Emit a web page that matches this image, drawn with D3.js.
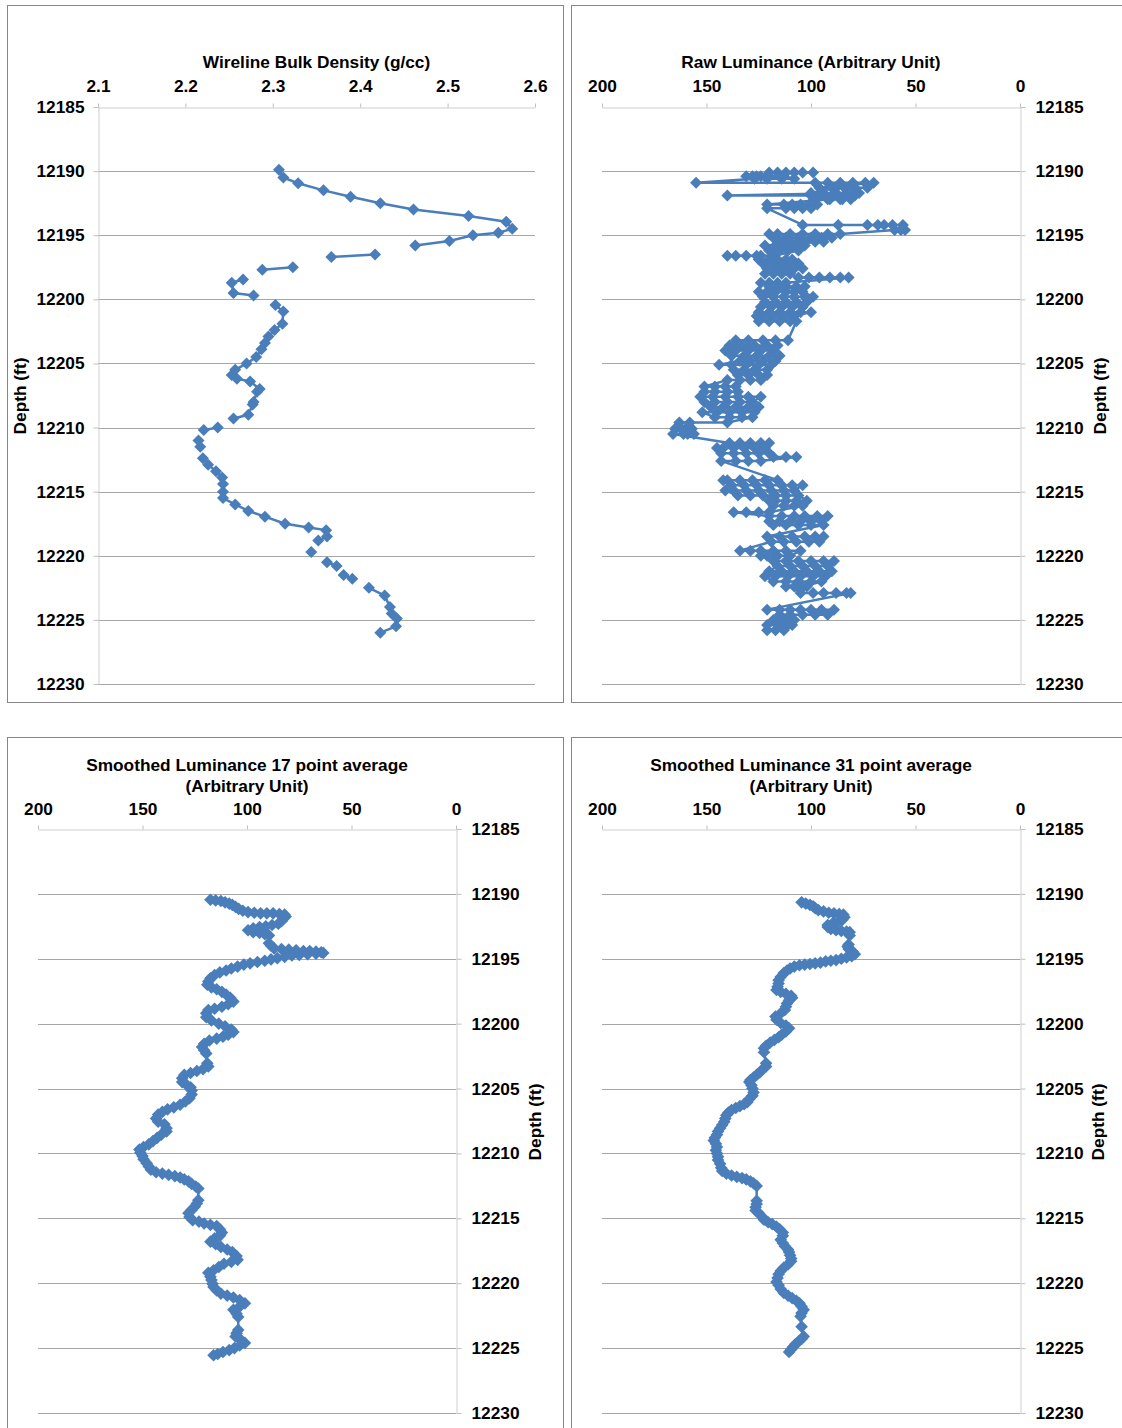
<!DOCTYPE html>
<html><head><meta charset="utf-8">
<script src="https://cdn.jsdelivr.net/npm/d3@7"></script>
<style>
body{margin:0;background:#fff;}
svg{display:block;font-family:"Liberation Sans",Arial,sans-serif;}
</style></head><body>
<svg id="c" width="1122" height="1428"></svg>
<script>
// ---------------- DATA ----------------
const depthTicks = [12185,12190,12195,12200,12205,12210,12215,12220,12225,12230];
const densityTicks = [2.1,2.2,2.3,2.4,2.5,2.6];
const lumTicks = [200,150,100,50,0];

// Wireline bulk density (null = gap in log)
const densityDepth = [12189.9,12190.5,12190.95,12191.5,12192.0,12192.5,12193.0,12193.5,12193.95,12194.5,12194.8,12195.0,12195.45,12195.8,null,
  12196.5,12196.7,null,12197.5,12197.7,null,12198.45,12198.7,12199.5,12199.7,null,
  12200.45,12200.95,12201.9,12202.4,12202.9,12203.4,12203.9,12204.5,12205.0,12205.5,12205.9,12206.2,12206.4,12207.0,12207.2,12208.0,12208.2,12209.0,12209.3,null,
  12210.0,12210.2,null,12211.0,12211.5,null,
  12212.4,12212.9,12213.4,12213.9,12214.4,12215.0,12215.5,12216.0,12216.5,12216.95,12217.5,12217.8,12218.0,12218.5,12218.8,null,
  12219.7,null,12220.5,12220.8,null,12221.5,12221.8,null,
  12222.5,12223.1,12224.0,12224.5,12224.9,12225.5,12226.0];
const densityValue = [2.307,2.312,2.329,2.358,2.389,2.423,2.461,2.524,2.567,2.574,2.558,2.529,2.502,2.463,null,
  2.417,2.367,null,2.323,2.288,null,2.266,2.253,2.255,2.278,null,
  2.303,2.312,2.311,2.302,2.295,2.291,2.287,2.281,2.270,2.257,2.253,2.259,2.274,2.285,2.282,2.278,2.277,2.272,2.255,null,
  2.237,2.221,null,2.215,2.217,null,
  2.220,2.226,2.235,2.242,2.243,2.243,2.243,2.257,2.272,2.291,2.314,2.341,2.361,2.362,2.352,null,
  2.344,null,2.362,2.373,null,2.381,2.391,null,
  2.410,2.428,2.434,2.436,2.442,2.441,2.423];

// Raw luminance: samples grouped by recorded depth row
const rawRowDepth = [12190.1,12190.4,12190.6,12190.9,12191.3,12191.7,12191.9,12192.2,12192.6,12192.9,
  12194.2,12194.6,12194.9,12195.2,12195.5,12195.8,12196.2,12196.6,12196.9,12197.2,
  12197.6,12198.0,12198.3,12198.7,12199.0,12199.4,12199.8,12200.2,12200.6,12201.0,
  12201.3,12201.7,12203.2,12203.6,12204.0,12204.4,12204.8,12205.1,12205.5,12205.9,
  12206.3,12206.8,12207.2,12207.6,12208.0,12208.4,12208.8,12209.2,12209.6,12210.1,
  12210.5,12211.2,12211.6,12212.0,12212.3,12212.6,12214.1,12214.5,12214.9,12215.3,
  12215.7,12216.1,12216.6,12216.9,12217.3,12217.6,12218.5,12218.9,12219.6,12220.0,
  12220.4,12220.8,12221.2,12221.6,12222.0,12222.4,12222.9,12224.2,12224.6,12225.0,
  12225.4,12225.8];
const rawRowValues = [
  [99,104,108,112,116,120],[124,128,131,126,120,113],[108,114,121,127],[155,98,92,86,80,74,70],
  [96,90,84,79,73,80,88],[100,94,88,83,77],[140,100,95,89,84,79],[98,92,86,81,85,91],
  [121,113,109,105,101,97],[100,104,108,112,121],
  [104,87,73,68,65,61,56],[55,57,60],[86,92,98,104,110,116,120],[118,112,106,100,95,90],
  [115,110,104,98,94],[122,117,112,108,103],[120,115,111,106],[118,124,136,140,131,126],
  [125,120,116,112,109],[123,118,114,110,106],
  [121,117,112,108,104],[122,118,114,110],[106,101,96,91,86,82],[112,116,120,124],
  [120,116,112,107,103],[125,121,117,112,108,104],[99,103,108,113,118,123],[122,117,112,107,102],
  [104,109,114,119,124],[125,120,115,110,105,100],
  [108,113,118,123,126],[125,120,115,110,107],[111,117,123,130,136],[139,133,127,121,116],
  [118,124,130,136,141],[138,132,126,120,115],[117,123,129,134],[144,138,131,125,119],
  [121,127,132,137],[135,130,125,121],
  [124,129,134,140],[151,146,141,136],[135,140,146,151],[153,147,141,135,130,124],
  [128,134,140,146,151],[148,142,136,130,125],[127,133,139,145,152],[146,139,133,128],
  [140,158,163],[160,157,162,165],
  [161,156,159,166],[139,134,129,124,120],[122,127,132,137,142,145],[143,137,131,125,120],
  [118,112,107],[124,130,136,143],[116,122,128,134,140,142],[138,132,126,120,114,109,104],
  [108,113,119,125,131,137,141],[135,129,123,117,112,106],
  [102,107,112,117,120],[118,113,108,104],[120,125,131,137],[120,114,108,103,97,92],
  [95,100,105,110,115,120],[118,112,106,100,94],[121,115,109,103,98,94],[96,101,107,113,119],
  [134,129,124,118,112,105],[110,116,121,124],
  [118,112,106,100,94,89],[92,98,104,110,116],[120,114,108,102,96,90],[93,99,105,111,117,122],
  [118,112,106,100,95],[104,108,112,107,102],[105,99,94,88,83,81],[121,115,110,105,100,95,89],
  [92,98,104,110,115],[118,112,108,113],
  [121,116,111,109],[121,117,113]
];

// Smoothed luminance, 17 point average
const s17Depth = [12190.45,12190.5,12190.55,12190.65,12190.75,12190.85,12191.0,12191.15,12191.3,12191.4,
  12191.45,12191.5,12191.5,12191.5,12191.55,12191.6,12191.75,12191.9,12192.1,12192.3,
  12192.4,12192.5,12192.55,12192.65,12192.8,12192.95,12193.0,12193.1,12193.2,12193.8,
  12194.0,12194.2,12194.25,12194.3,12194.35,12194.4,12194.4,12194.45,12194.5,12194.55,
  12194.6,12194.65,12194.7,12194.75,12194.85,12194.95,12195.05,12195.15,12195.25,12195.35,
  12195.45,12195.6,12195.75,12195.9,12196.05,12196.25,12196.5,12196.75,12197.0,12197.2,
  12197.35,12197.55,12197.75,12198.0,12198.3,12198.5,12198.7,12198.85,12198.95,12199.2,
  12199.5,12199.75,12200.0,12200.2,12200.45,12200.65,12200.85,12201.0,12201.15,12201.3,
  12201.55,12201.8,12202.05,12202.3,12203.05,12203.3,12203.5,12203.65,12203.8,12203.95,
  12204.2,12204.5,12204.7,12204.9,12205.15,12205.45,12205.75,12206.0,12206.25,12206.45,
  12206.6,12206.8,12207.0,12207.3,12207.55,12207.75,12208.05,12208.3,12208.55,12208.8,
  12209.05,12209.3,12209.5,12209.7,12209.95,12210.2,12210.45,12210.75,12211.0,12211.25,
  12211.45,12211.55,12211.65,12211.75,12211.85,12212.0,12212.15,12212.35,12212.55,12212.7,
  12213.6,12213.85,12214.1,12214.35,12214.6,12214.9,12215.15,12215.25,12215.4,12215.5,
  12215.6,12215.85,12216.1,12216.35,12216.55,12216.8,12217.0,12217.2,12217.4,12217.6,
  12217.9,12218.2,12218.35,12218.5,12218.75,12219.0,12219.2,12219.5,12219.75,12220.05,
  12220.3,12220.55,12220.8,12220.95,12221.1,12221.3,12221.55,12221.8,12222.05,12222.35,
  12222.6,12223.6,12223.85,12224.1,12224.35,12224.6,12224.8,12225.0,12225.15,12225.3,
  12225.45,12225.55];
const s17Value = [117.5,115,112.5,110.5,108.5,107,105.5,104,102,99.5,
  96.5,93.5,90.5,87.5,84.5,82,81.5,82.5,83.5,85,
  88,91,94,97,99.5,97,94,91.5,89.5,89.5,
  88.5,87,83.5,80,76.5,73,70,67,64.5,63.5,
  67,71,75,78.5,82,85.5,88.5,91.5,95,98.5,
  101.5,104.5,107.5,110,113,115.5,117.5,118.5,119,117,
  114.5,112,110,108,106.5,109,112,115.5,118.5,119.5,
  119.5,117,113.5,110.5,107.5,106.5,109,111.5,114.5,118,
  120.5,121.5,120.5,119.5,119,118.5,121,124,127,130,
  131,131,129,127,126.5,126.5,127.5,129.5,132,135,
  138,140.5,142.5,143.5,142.5,139.5,138.5,138.5,141,143,
  145,147,149.5,151.5,151,150,149.5,148,147,146,
  143.5,140.5,137.5,134.5,132,130,128,126.5,124.5,123.3,
  123.3,124,125,126.5,128,127.5,126,123,120.5,117.5,
  114.5,113,112,113,115.5,117.5,115,112.5,109.5,107,
  105,104.5,107.5,111,113.5,116,118.5,117.5,117,116.5,
  116,114.5,112.5,109.5,106.5,103.5,101,103.5,106.5,105,
  104.2,104.2,105,105.5,103,101,103.5,106,108.5,111.5,
  114,116];

// Smoothed luminance, 31 point average
const s31Depth = [12190.65,12190.75,12190.85,12190.95,12191.1,12191.25,12191.35,12191.45,12191.5,12191.55,
  12191.6,12191.8,12192.0,12192.15,12192.25,12192.4,12192.55,12192.7,12192.8,12192.85,
  12192.9,12192.95,12193.2,12193.9,12194.05,12194.25,12194.45,12194.65,12194.8,12194.9,
  12195.0,12195.1,12195.15,12195.2,12195.3,12195.35,12195.4,12195.45,12195.5,12195.6,
  12195.75,12195.9,12196.1,12196.4,12196.65,12196.9,12197.15,12197.4,12197.55,12197.7,
  12197.85,12198.0,12198.2,12198.45,12198.7,12198.95,12199.2,12199.45,12199.7,12199.95,
  12200.15,12200.35,12200.6,12200.85,12201.05,12201.25,12201.45,12201.7,12201.9,12202.2,
  12203.05,12203.3,12203.5,12203.75,12203.95,12204.15,12204.35,12204.5,12204.75,12205.0,
  12205.3,12205.55,12205.8,12206.05,12206.2,12206.35,12206.5,12206.65,12206.85,12207.05,
  12207.3,12207.55,12207.8,12208.05,12208.3,12208.55,12208.8,12209.0,12209.25,12209.5,
  12209.75,12210.0,12210.25,12210.5,12210.8,12211.1,12211.35,12211.55,12211.7,12211.8,
  12211.9,12212.0,12212.15,12212.3,12212.5,12213.65,12213.9,12214.15,12214.4,12214.6,
  12214.85,12215.1,12215.3,12215.45,12215.65,12215.85,12216.1,12216.35,12216.65,12216.9,
  12217.15,12217.4,12217.6,12217.85,12218.1,12218.3,12218.55,12218.8,12219.05,12219.3,
  12219.6,12219.9,12220.15,12220.45,12220.75,12220.95,12221.15,12221.35,12221.55,12221.8,
  12222.05,12222.3,12222.55,12223.35,12224.1,12224.3,12224.5,12224.7,12224.9,12225.1,
  12225.3];
const s31Value = [104.5,102.5,100.5,99,98,96.5,94,91.5,89,86.5,
  84.5,84,85,87,89.5,92,92,90.5,88,85.5,
  83,81.5,81.5,82,82.5,82,80,79,80.5,83,
  85.5,88,90.5,93,95.5,98,100.5,103,105.5,108,
  110,111.5,113,114.5,115.5,115.5,116,116.5,114.5,112,
  109.5,109,110.5,111.5,112,112.5,114.5,117,116.5,114.5,
  112,110.5,112,114,115.5,117.5,119.5,121.5,122.5,122.5,
  121.5,121.5,123,124.5,126,127.5,129,129.5,128.5,128,
  127.5,128,129.5,130.5,132,134,136,138,139.5,140.5,
  141,141.5,142.5,143.5,144.5,145,146,146.5,145.5,145,
  145.5,145,144.5,144.5,143.5,143,142.5,140.5,138,135.5,
  133,131,129,127.5,126,126,126,126.5,126.5,125,
  123.5,122.5,120.5,118.5,116.5,115,113.5,113.5,114.5,113.5,
  112.5,111,110.5,110,109.5,109.5,111,113,114.5,115.5,
  116,116.5,115.5,114.5,113,111,109,107,105.5,104.5,
  103.5,104.5,105,104.5,103.5,104.5,106,107.5,108.5,109.5,
  110.5];

// ---------------- DRAWING ----------------
const BLUE = '#4a7ebb';
const FONT = '"Liberation Sans", Arial, sans-serif';
const svg = d3.select('#c');

function zip(ds, vs){ return ds.map((d,i)=>({d:d, v:vs[i]})); }
const densityPts = zip(densityDepth, densityValue);
const rawPts = [];
rawRowDepth.forEach((d,i)=>rawRowValues[i].forEach(v=>rawPts.push({d:d, v:v})));
const s17Pts = zip(s17Depth, s17Value);
const s31Pts = zip(s31Depth, s31Value);

function panel(cfg){
  const g = svg.append('g');
  g.append('rect').attr('x',cfg.box[0]+0.5).attr('y',cfg.box[1]+0.5)
    .attr('width',cfg.box[2]).attr('height',cfg.box[3])
    .attr('fill','#fff').attr('stroke','#868686').attr('stroke-width',1);
  const x = d3.scaleLinear().domain(cfg.xDomain).range([cfg.x0,cfg.x1]);
  const y = d3.scaleLinear().domain([12185,12230]).range([cfg.y0,cfg.y1]);
  const left = cfg.side === 'left';

  // gridlines
  g.append('g').selectAll('line').data(depthTicks.slice(1)).join('line')
    .attr('x1',cfg.x0).attr('x2',cfg.x1)
    .attr('y1',d=>Math.round(y(d))+0.5).attr('y2',d=>Math.round(y(d))+0.5)
    .attr('stroke','#a6a6a6').attr('stroke-width',1);

  // top x axis
  const xa = g.append('g').attr('transform',`translate(0,${cfg.y0+0.5})`)
    .call(d3.axisTop(x).tickValues(cfg.xTicks).tickFormat(cfg.xFormat)
      .tickSize(4).tickSizeOuter(0).tickPadding(cfg.xPad));
  // y axis
  const yaxis = (left ? d3.axisLeft(y) : d3.axisRight(y)).tickValues(depthTicks)
      .tickFormat(d3.format('d')).tickSize(5).tickSizeOuter(0).tickPadding(cfg.yPad);
  const ya = g.append('g').attr('transform',`translate(${(left?cfg.x0:cfg.x1)+0.5},0)`).call(yaxis);
  [xa,ya].forEach(a=>{
    a.attr('font-family',FONT).attr('font-size',17.3);
    a.select('.domain').attr('stroke','#cfcfcf');
    a.selectAll('.tick line').attr('stroke','#bfbfbf');
    a.selectAll('.tick text').attr('font-weight','bold').attr('fill','#000');
  });

  // title
  const tx = (cfg.x0+cfg.x1)/2;
  cfg.title.forEach((t,i)=>{
    g.append('text').attr('x',tx).attr('y',cfg.titleY + i*21)
      .attr('text-anchor','middle').attr('font-family',FONT).attr('font-size',17.3)
      .attr('font-weight','bold').attr('fill','#000').text(t);
  });
  // depth label
  g.append('text').attr('transform',`translate(${cfg.depthX},${cfg.depthY}) rotate(-90)`)
    .attr('text-anchor','middle').attr('dy','0.35em')
    .attr('font-family',FONT).attr('font-size',17.3).attr('font-weight','bold').attr('fill','#000')
    .text('Depth (ft)');

  // series
  const line = d3.line().defined(p=>p.v!=null && p.d!=null).x(p=>x(p.v)).y(p=>y(p.d));
  g.append('path').datum(cfg.pts).attr('d',line).attr('fill','none')
    .attr('stroke',BLUE).attr('stroke-width',2.5).attr('stroke-linejoin','round');
  const sym = d3.symbol(d3.symbolSquare).size(cfg.msize)();
  g.append('g').selectAll('path').data(cfg.pts.filter(p=>p.v!=null && p.d!=null)).join('path')
    .attr('d',sym).attr('transform',p=>`translate(${x(p.v)},${y(p.d)}) rotate(45)`)
    .attr('fill',BLUE);
}

panel({box:[7,5,556,697], x0:98, x1:535, y0:107, y1:684, xDomain:[2.1,2.6], xTicks:densityTicks,
  xFormat:d3.format('.1f'), xPad:12, side:'left', yPad:9,
  title:['Wireline Bulk Density (g/cc)'], titleY:68, depthX:20, depthY:396,
  pts:densityPts, msize:72});
panel({box:[571,5,560,697], x0:602, x1:1020, y0:107, y1:684, xDomain:[200,0], xTicks:lumTicks,
  xFormat:d3.format('d'), xPad:12, side:'right', yPad:10,
  title:['Raw Luminance (Arbitrary Unit)'], titleY:68, depthX:1100, depthY:396,
  pts:rawPts, msize:72});
panel({box:[7,737,556,700], x0:38, x1:456, y0:829, y1:1413, xDomain:[200,0], xTicks:lumTicks,
  xFormat:d3.format('d'), xPad:11, side:'right', yPad:10,
  title:['Smoothed Luminance 17 point average','(Arbitrary Unit)'], titleY:771, depthX:535, depthY:1122,
  pts:s17Pts, msize:80});
panel({box:[571,737,560,700], x0:602, x1:1020, y0:829, y1:1413, xDomain:[200,0], xTicks:lumTicks,
  xFormat:d3.format('d'), xPad:11, side:'right', yPad:10,
  title:['Smoothed Luminance 31 point average','(Arbitrary Unit)'], titleY:771, depthX:1098, depthY:1122,
  pts:s31Pts, msize:80});
</script>
</body></html>
